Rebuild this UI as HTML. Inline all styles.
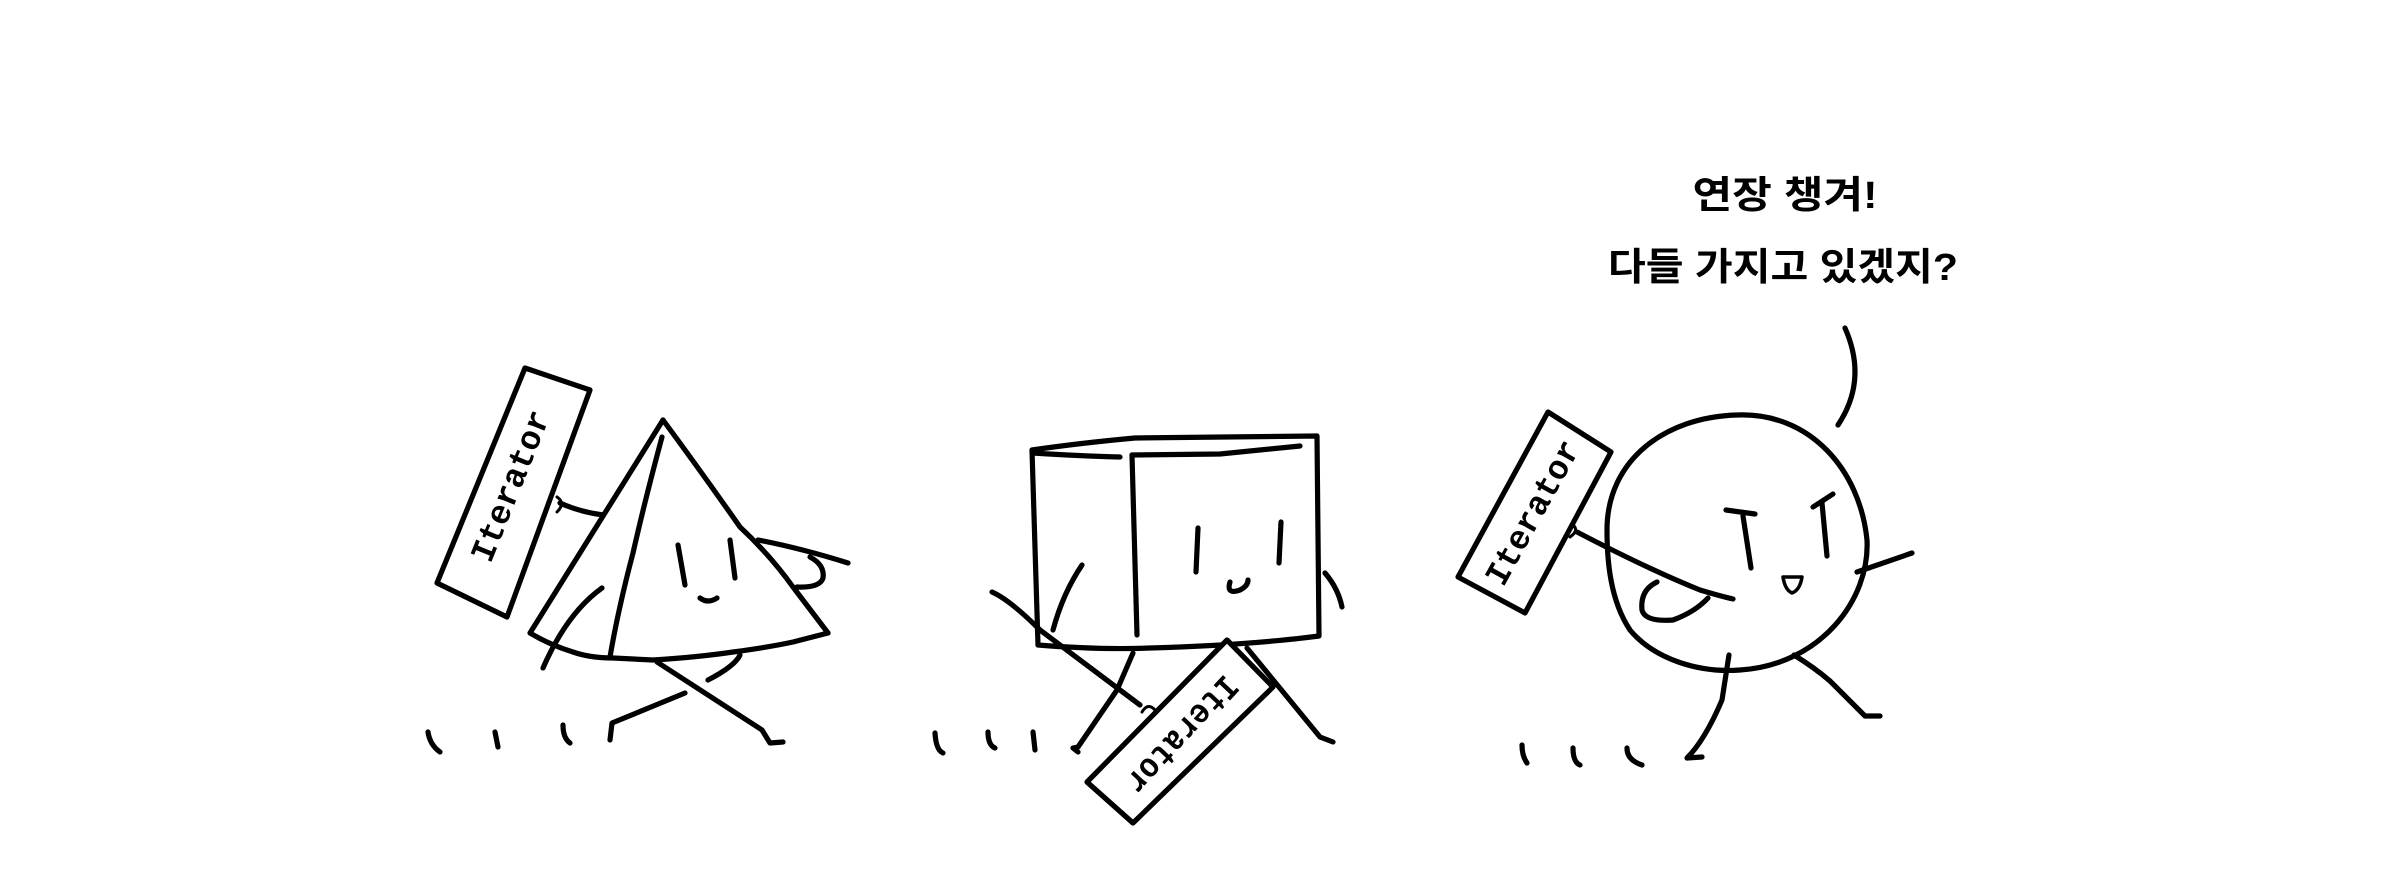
<!DOCTYPE html>
<html><head><meta charset="utf-8"><style>
html,body{margin:0;padding:0;background:#fff;}
svg{display:block;}
</style></head><body>
<svg width="2400" height="885" viewBox="0 0 2400 885" xmlns="http://www.w3.org/2000/svg">
<rect width="2400" height="885" fill="#fff"/>
<g fill="none" stroke="#000" stroke-width="5.2" stroke-linecap="round" stroke-linejoin="round">
<!-- ===== Triangle ===== -->
<path d="M663,420 Q700,470 740,527 Q770,555 793,587 L828,633"/>
<path d="M663,420 L530,633 Q550,645 573,652 Q590,658 613,658 L653,660 Q700,657 733,652 Q770,647 793,642 L828,633"/>
<path d="M662,437 Q645,500 633,553 Q618,610 610,657"/>
<polygon points="525,368 590,390 507,617 437,583" fill="#fff"/>
<path d="M560,503 Q580,512 603,515"/>
<path d="M557,497 Q566,503 557,512" stroke-width="3"/>
<path d="M758,540 Q800,548 848,563"/>
<path d="M810,557 Q825,565 823,578 Q820,588 797,587"/>
<path d="M678,545 L685,585"/><path d="M730,540 L735,578"/>
<path d="M700,598 Q708,604 717,598"/>
<path d="M602,588 Q567,613 543,668"/>
<path d="M657,662 L762,730 L770,743 L783,742"/>
<path d="M740,655 Q735,666 708,680"/>
<path d="M685,693 L612,723 L610,740"/>
<path d="M428,732 Q430,745 440,752"/><path d="M495,732 L498,747"/><path d="M563,725 Q563,738 570,743"/>

<!-- ===== Cube ===== -->
<path d="M1032,450 Q1080,443 1135,438 L1317,436 L1319,635"/>
<path d="M1032,450 L1038,645 Q1100,650 1150,648 Q1250,645 1319,636"/>
<path d="M1033,453 Q1080,456 1120,457"/>
<path d="M1132,455 L1220,454 Q1260,450 1300,446"/>
<path d="M1132,455 Q1135,550 1137,635"/>
<path d="M1198,528 L1196,572"/><path d="M1281,522 L1279,563"/>
<path d="M1230,582 Q1226,595 1240,590 Q1248,586 1248,580"/>
<path d="M1325,573 Q1338,588 1342,607"/>
<path d="M1082,565 Q1063,593 1053,630"/>
<path d="M992,592 Q1010,600 1040,630 L1140,705"/>
<path d="M1133,653 L1117,690 L1078,747 L1073,748 L1078,752"/>
<path d="M1247,648 L1320,737 L1333,742"/>
<polygon points="1227,640 1273,687 1133,823 1087,782" fill="#fff"/>
<path d="M1142,712 Q1148,702 1155,710" stroke-width="3"/>
<path d="M935,733 Q936,750 943,753"/><path d="M988,732 Q988,745 995,748"/><path d="M1033,732 L1035,750"/>

<!-- ===== Circle ===== -->
<path d="M1845,328 Q1868,380 1838,425"/>
<path d="M1737,415 C1810,412 1860,470 1867,540 C1870,600 1820,665 1740,670 C1700,673 1655,660 1630,630 C1610,600 1607,560 1607,530 C1607,460 1665,417 1737,415 Z"/>
<polygon points="1548,412 1611,452 1525,613 1458,577" fill="#fff"/>
<path d="M1572,524 Q1580,530 1570,537" stroke-width="3"/>
<path d="M1577,532 Q1650,570 1700,590 Q1720,596 1733,599"/>
<path d="M1726,510 L1755,514"/><path d="M1743,516 L1751,568"/>
<path d="M1813,507 L1833,494"/><path d="M1822,503 L1827,556"/>
<path d="M1783,577 L1802,577 Q1800,590 1792,593 Q1785,590 1783,577 Z" stroke-width="3.5"/>
<path d="M1657,582 Q1640,590 1642,610 Q1645,622 1673,620 Q1695,612 1708,598"/>
<path d="M1857,572 L1912,553"/>
<path d="M1729,655 L1722,700 Q1705,740 1687,758 L1702,757"/>
<path d="M1794,655 Q1815,668 1830,681 L1865,716 L1880,716"/>
<path d="M1522,745 Q1522,756 1527,763"/><path d="M1573,748 Q1573,762 1580,765"/><path d="M1627,748 Q1627,760 1642,765"/>
</g>
<g font-family="'Liberation Mono', monospace" font-size="34" font-weight="bold" fill="#000">
<text x="0" y="0" text-anchor="middle" dominant-baseline="central" textLength="160" lengthAdjust="spacingAndGlyphs" transform="translate(513,487) rotate(-68)">Iterator</text>
<text x="0" y="0" text-anchor="middle" dominant-baseline="central" textLength="148" lengthAdjust="spacingAndGlyphs" transform="translate(1180,733) rotate(133)">Iterator</text>
<text x="0" y="0" text-anchor="middle" dominant-baseline="central" textLength="160" lengthAdjust="spacingAndGlyphs" transform="translate(1535,514) rotate(-61)">Iterator</text>
</g>
<g font-family="'Liberation Sans','Noto Sans CJK KR','NanumGothic',sans-serif" font-size="38" font-weight="bold" fill="#000" text-anchor="middle">
<text x="1785" y="208" textLength="185" lengthAdjust="spacingAndGlyphs">연장 챙겨!</text>
<text x="1783" y="280" textLength="350" lengthAdjust="spacingAndGlyphs">다들 가지고 있겠지?</text>
</g>
</svg>
</body></html>
